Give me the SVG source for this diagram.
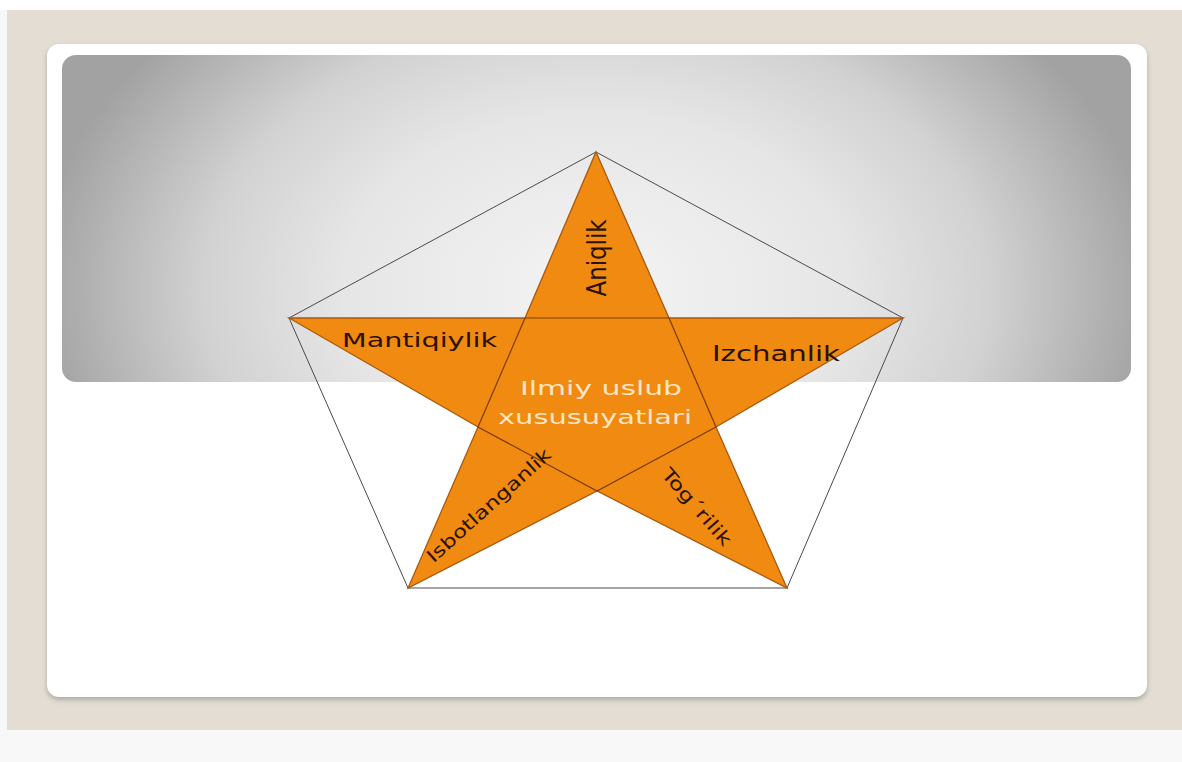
<svg xmlns="http://www.w3.org/2000/svg" width="1182" height="762" viewBox="0 0 1182 762">
  <defs>
    <radialGradient id="grayGrad" cx="596" cy="290" r="560" gradientUnits="userSpaceOnUse" gradientTransform="translate(596 290) scale(1 0.7) translate(-596 -290)">
      <stop offset="0" stop-color="#f4f4f4"/>
      <stop offset="0.45" stop-color="#e6e6e6"/>
      <stop offset="0.7" stop-color="#d2d2d2"/>
      <stop offset="1" stop-color="#a2a2a2"/>
    </radialGradient>
    <filter id="shadow" x="-5%" y="-5%" width="110%" height="115%">
      <feGaussianBlur stdDeviation="2.5"/>
    </filter>
    <style>
      .arm { fill: #f08a10; stroke: #a85a12; stroke-width: 1.3; stroke-linejoin: miter; }
      .inner { fill: none; stroke: #7a3c08; stroke-width: 1.2; }
      .pent { fill: none; stroke: #4a4a4a; stroke-width: 1; }
      .lbl { font-family: "DejaVu Sans", Verdana, sans-serif; fill: #2a1200; }
      .ctr { font-family: "DejaVu Sans", Verdana, sans-serif; fill: #fde6c4; }
    </style>
  </defs>

  <!-- backgrounds -->
  <rect x="0" y="0" width="1182" height="762" fill="#f8f8f8"/>
  <rect x="0" y="0" width="1182" height="10" fill="#ffffff"/>
  <rect x="7" y="10" width="1175" height="720" fill="#e3ddd3"/>

  <!-- card -->
  <g id="card">
    <rect x="47" y="47" width="1100" height="653" rx="12" fill="#9a968e" opacity="0.7" filter="url(#shadow)"/>
    <rect x="47" y="44" width="1100" height="653" rx="12" fill="#ffffff"/>
    <rect x="62" y="55" width="1069" height="327" rx="14" fill="url(#grayGrad)"/>
  </g>

  <!-- connectors: outer pentagon -->
  <g id="connectors">
    <polygon class="pent" points="596,152 903,318 787,588 408,588 289,318"/>
  </g>

  <!-- star -->
  <g id="star">
    <polygon class="arm" points="596,152 669,318 903,318 716,427 787,588 597,491 408,588 478,427 289,318 525,318"/>
    <g id="node-center">
      <polyline class="inner" points="525,318 669,318"/>
      <polyline class="inner" points="525,318 478,427 597,491 716,427 669,318"/>
      <text class="ctr" x="601" y="395" font-size="20" text-anchor="middle" textLength="162" lengthAdjust="spacingAndGlyphs">Ilmiy uslub</text>
      <text class="ctr" x="595" y="424" font-size="20" text-anchor="middle" textLength="194" lengthAdjust="spacingAndGlyphs">xususuyatlari</text>
    </g>
    <g id="node-aniqlik">
      <text class="lbl" transform="translate(606,258) scale(1.4,1) rotate(-90)" font-size="19" text-anchor="middle" textLength="77" lengthAdjust="spacingAndGlyphs">Aniqlik</text>
    </g>
    <g id="node-mantiqiylik">
      <text class="lbl" x="342" y="347" font-size="20" textLength="155" lengthAdjust="spacingAndGlyphs">Mantiqiylik</text>
    </g>
    <g id="node-izchanlik">
      <text class="lbl" x="712" y="361" font-size="21" textLength="128" lengthAdjust="spacingAndGlyphs">Izchanlik</text>
    </g>
    <g id="node-isbotlanganlik">
      <text class="lbl" transform="translate(493,510) rotate(-42)" font-size="18" text-anchor="middle" textLength="160" lengthAdjust="spacingAndGlyphs">Isbotlanganlik</text>
    </g>
    <g id="node-togrilik">
      <text class="lbl" transform="translate(692,511) rotate(49)" font-size="18" text-anchor="middle" textLength="96" lengthAdjust="spacingAndGlyphs">Tog´rilik</text>
    </g>
  </g>
</svg>
